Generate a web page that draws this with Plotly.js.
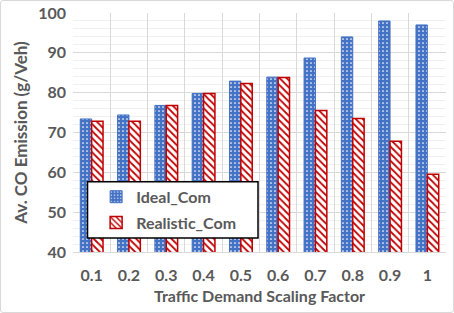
<!DOCTYPE html>
<html><head><meta charset="utf-8">
<script src="https://cdn.plot.ly/plotly-3.0.1.min.js"></script>
<style>
html,body{margin:0;padding:0;background:#fff;}
#frame{position:absolute;left:0;top:0;width:452px;height:311px;border:1px solid #d9d9d9;border-radius:3px;}
#chart{position:absolute;left:0;top:0;width:454px;height:313px;}
</style></head>
<body>
<div id="frame"></div>
<div id="chart"></div>
<script>
const categories = ['0.1','0.2','0.3','0.4','0.5','0.6','0.7','0.8','0.9','1'];
const idealCom = [73.4, 74.4, 76.8, 79.8, 82.9, 83.9, 88.7, 94.0, 98.0, 97.0];
const realisticCom = [72.8, 72.8, 76.8, 79.8, 82.3, 83.8, 75.5, 73.5, 67.8, 59.5];
const yTicks = [40, 50, 60, 70, 80, 90, 100];

const font = 'Lato, "Open Sans", sans-serif';
const traces = [
  {type:'bar', name:'Ideal_Com', x:categories, y:idealCom, legendgroup:'a',
   marker:{color:'#4472C4', line:{color:'#4472C4', width:1},
     pattern:{shape:'.', fgcolor:'#ffffff', bgcolor:'#4472C4', size:4, solidity:0.15}}},
  {type:'bar', name:'Realistic_Com', x:categories, y:realisticCom, legendgroup:'b',
   marker:{color:'#ffffff', line:{color:'#C00000', width:1.5},
     pattern:{shape:'\\', fgcolor:'#C00000', bgcolor:'#ffffff', size:5, solidity:0.35}}}
];
const layout = {
  width:454, height:313,
  margin:{l:73, r:8, t:13, b:61},
  paper_bgcolor:'rgba(0,0,0,0)', plot_bgcolor:'#fff',
  barmode:'group', bargap:0.39, bargroupgap:0,
  font:{family:font, color:'#595959'},
  showlegend:true,
  shapes:[{type:'rect', xref:'paper', yref:'paper', x0:0.039, x1:0.496, y0:0.059, y1:0.294,
    fillcolor:'#ffffff', line:{color:'#000000', width:1.5}, layer:'above'}],
  legend:{x:0.062, y:0.302, xanchor:'left', yanchor:'top', bgcolor:'rgba(0,0,0,0)',
    borderwidth:0, font:{size:16, family:font, color:'#595959', weight:'bold'},
    tracegroupgap:2, itemwidth:30},
  xaxis:{type:'category', tickson:'boundaries', showgrid:true, gridcolor:'#d9d9d9', gridwidth:1,
    ticks:'', showline:true, linecolor:'#d9d9d9', mirror:false,
    tickfont:{size:16, family:font, color:'#595959', weight:'bold'}, ticklabelstandoff:9,
    title:{text:'Traffic Demand Scaling Factor', font:{size:16, family:font, color:'#595959', weight:'bold'}, standoff:7}},
  yaxis:{range:[40,100], tickvals:yTicks, showgrid:true, gridcolor:'#d9d9d9', gridwidth:1,
    zeroline:false, showline:false, ticks:'',
    minor:{dtick:2, showgrid:true, gridcolor:'#f0f0f0', gridwidth:1},
    tickfont:{size:16, family:font, color:'#595959', weight:'bold'}, ticklabelstandoff:6,
    title:{text:'Av. CO Emission (g/Veh)', font:{size:17, family:font, color:'#595959', weight:'bold'}, standoff:6}}
};
Plotly.newPlot('chart', traces, layout, {displayModeBar:false, staticPlot:true});
</script>
</body></html>
